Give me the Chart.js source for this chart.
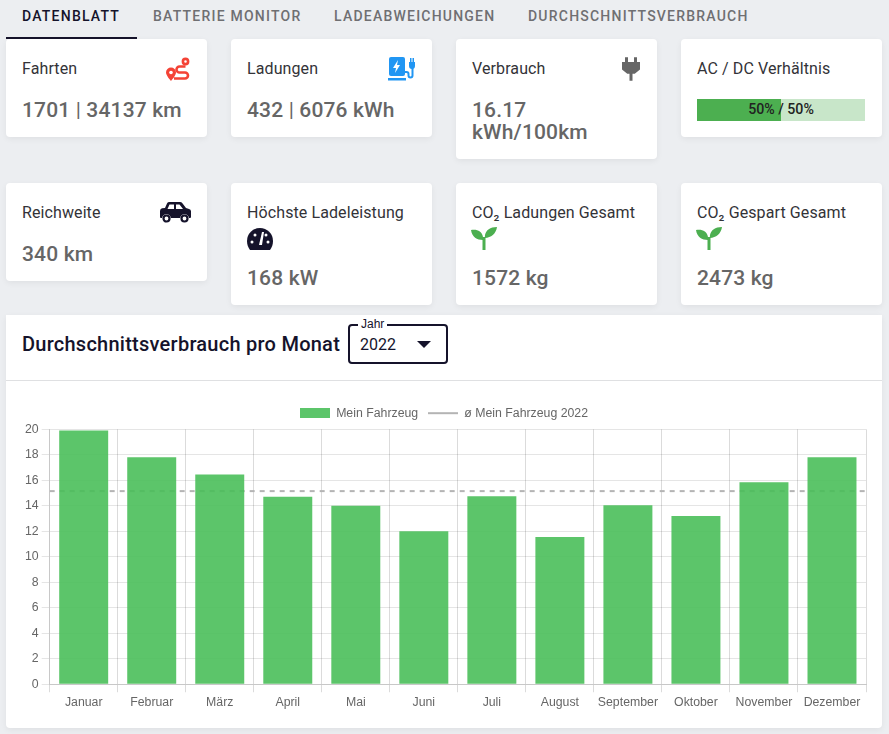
<!DOCTYPE html>
<html lang="de">
<head>
<meta charset="UTF-8">
<title>Datenblatt</title>
<script src="https://cdn.jsdelivr.net/npm/chart.js"></script>
<style>
html, body { margin: 0; padding: 0; }
body { width: 889px; height: 734px; background: #eceef1; font-family: Roboto, sans-serif; color: #15132b; position: relative; overflow: hidden; }
.tab { position: absolute; top: 8px; font-size: 14px; font-weight: 500; letter-spacing: 1.22px; color: #6f6f72; line-height: 16px; white-space: nowrap; }
.tab.active { color: #15132b; }
.underline { position: absolute; left: 6px; top: 37px; width: 131px; height: 2px; background: #15132b; }
.card { position: absolute; background: #fff; border-radius: 4px; box-shadow: 0 2px 6px rgba(0,0,0,.06); width: 201px; box-sizing: border-box; }
.card .t { position: absolute; left: 16px; top: 20px; font-size: 16px; letter-spacing: .1px; line-height: 19px; color: #333338; white-space: nowrap; }
.card .v { position: absolute; left: 16px; font-size: 21px; font-weight: 500; line-height: 22px; color: #666; letter-spacing: .15px; }
.card .v span { font-weight: 400; }
.card svg { position: absolute; }
.bar { position: absolute; left: 16px; top: 60px; width: 168px; height: 22px; background: #c8e6c9; }
.bar i { position: absolute; left: 0; top: 0; width: 84px; height: 22px; background: #4caf50; }
.bar b { position: absolute; left: 0; right: 0; top: 0; text-align: center; font-size: 14.2px; font-weight: 500; line-height: 21px; color: #222; }
#panel { position: absolute; left: 6px; top: 315px; width: 876px; height: 413px; background: #fff; border-radius: 0 0 4px 4px; box-shadow: 0 2px 6px rgba(0,0,0,.06); }
#panel h2 { position: absolute; left: 16px; top: 17px; margin: 0; font-size: 20px; font-weight: 500; letter-spacing: .25px; line-height: 24px; color: #15132b; white-space: nowrap; }
#panel hr { position: absolute; left: 0; right: 0; top: 65px; margin: 0; border: 0; border-top: 1px solid #dfe0e2; }
.select { position: absolute; left: 342px; top: 9px; width: 100px; height: 40px; box-sizing: border-box; border: 2px solid #15132b; border-radius: 4px; }
.select .lab { position: absolute; left: 8px; top: -8px; background: #fff; padding: 0 3px; font-size: 12px; line-height: 13px; color: #15132b; font-family: "Liberation Sans", Arial, sans-serif; }
.select .val { position: absolute; left: 10px; top: 9px; font-size: 16px; line-height: 19px; color: #15132b; }
.select .caret { position: absolute; left: 67px; top: 15px; width: 0; height: 0; border-left: 7px solid transparent; border-right: 7px solid transparent; border-top: 7px solid #15132b; }
#chartBox { position: absolute; left: 0; top: 66px; width: 876px; height: 347px; }
</style>
</head>
<body>
<div class="tab active" style="left:22px">DATENBLATT</div>
<div class="tab" style="left:153px">BATTERIE MONITOR</div>
<div class="tab" style="left:334px">LADEABWEICHUNGEN</div>
<div class="tab" style="left:528px">DURCHSCHNITTSVERBRAUCH</div>
<div class="underline"></div>

<div class="card" style="left:6px;top:39px;height:98px">
  <div class="t">Fahrten</div>
  <svg style="left:160px;top:18px" width="25" height="24" viewBox="0 0 25 24"><g fill="none" stroke="#f44336" stroke-width="2.6"><circle cx="19.5" cy="4.5" r="2.6"/><path d="M19.5 9.5H13.5a3 3 0 0 0 0 6H19a3 3 0 0 1 0 6H8"/></g><path d="M5 10.5a5 5 0 0 1 5 5c0 3-5 8.5-5 8.5s-5-5.500-5-8.500a5 5 0 0 1 5-5z" fill="#f44336"/><circle cx="5" cy="15.500" r="1.800" fill="#fff"/></svg>
  <div class="v" style="top:60px">1701 <span>|</span> 34137 km</div>
</div>
<div class="card" style="left:231px;top:39px;height:98px">
  <div class="t">Ladungen</div>
  <svg style="left:157px;top:18px" width="28" height="24" viewBox="0 0 28 24"><rect x="1" y="0" width="16" height="19" rx="2" fill="#2196f3"/><rect x="0" y="21" width="18" height="2.500" fill="#2196f3"/><path d="M10 3l-5 8h3l-1 5 5-8H9z" fill="#fff"/><path d="M17 15h1.500a2 2 0 0 1 2 2v1.500a2 2 0 0 0 4 0V11" fill="none" stroke="#2196f3" stroke-width="2"/><path d="M21 5h1V1h1.500v4h1V1H26v4h1v4a2.500 2.500 0 0 1-6 0z" fill="#2196f3"/></svg>
  <div class="v" style="top:60px">432 <span>|</span> 6076 kWh</div>
</div>
<div class="card" style="left:456px;top:39px;height:120px">
  <div class="t">Verbrauch</div>
  <svg style="left:163px;top:17px" width="24" height="26" viewBox="4 2 16 22" preserveAspectRatio="none"><path d="M16 7V3h-2v4h-4V3H8v4H6v6.500L9.500 17H11v6h2v-6h1.500l3.500-3.500V7z" fill="#666"/></svg>
  <div class="v" style="top:60px">16.17<br>kWh/100km</div>
</div>
<div class="card" style="left:681px;top:39px;height:98px">
  <div class="t">AC / DC Verhältnis</div>
  <div class="bar"><i></i><b>50% / 50%</b></div>
</div>

<div class="card" style="left:6px;top:183px;height:98px">
  <div class="t">Reichweite</div>
  <svg style="left:154px;top:18px" width="31" height="23" viewBox="0 0 31 23"><path d="M9 1h11a3 3 0 0 1 2.400 1.200L26 7l3 1a2.500 2.500 0 0 1 2 2.500V16a1 1 0 0 1-1 1h-1a4.500 4.500 0 0 0-8.900 0H10.900A4.500 4.500 0 0 0 2 17H1a1 1 0 0 1-1-1v-6a3 3 0 0 1 2-2.800L5 7l2-4.500A2 2 0 0 1 9 1z" fill="#15132b"/><path d="M9.500 3.500h4.500V8H7.500zM16 3.500h3.500L23 8h-7z" fill="#fff"/><circle cx="6.500" cy="17.500" r="3" fill="none" stroke="#15132b" stroke-width="2.200"/><circle cx="24.500" cy="17.500" r="3" fill="none" stroke="#15132b" stroke-width="2.200"/></svg>
  <div class="v" style="top:60px">340 km</div>
</div>
<div class="card" style="left:231px;top:183px;height:122px">
  <div class="t">Höchste Ladeleistung</div>
  <svg style="left:16px;top:45px" width="26" height="22" viewBox="0 0 26 22"><path d="M13 0a13 13 0 0 1 13 13c0 3.500-1.200 6.500-3 9H3c-1.800-2.500-3-5.500-3-9A13 13 0 0 1 13 0z" fill="#15132b"/><g fill="#fff"><circle cx="5" cy="14" r="1.500"/><circle cx="8" cy="7" r="1.500"/><circle cx="21" cy="14" r="1.500"/><circle cx="19" cy="7" r="1.500"/><path d="M15 4h2l-2 13h-3z"/></g></svg>
  <div class="v" style="top:84px">168 kW</div>
</div>
<div class="card" style="left:456px;top:183px;height:122px">
  <div class="t">CO₂ Ladungen Gesamt</div>
  <svg style="left:15px;top:44px" width="26" height="23" viewBox="0 0 26 23"><path d="M0 3c6-1 11 1 12 7v3C6 13 1 10 0 3zM26 0c-7 0-11 3-12 8-.2 1-.1 2 0 3 6-.5 11-4 12-11z" fill="#4caf50"/><rect x="11.500" y="10" width="3" height="13" fill="#4caf50"/></svg>
  <div class="v" style="top:84px">1572 kg</div>
</div>
<div class="card" style="left:681px;top:183px;height:122px">
  <div class="t">CO₂ Gespart Gesamt</div>
  <svg style="left:15px;top:44px" width="26" height="23" viewBox="0 0 26 23"><path d="M0 3c6-1 11 1 12 7v3C6 13 1 10 0 3zM26 0c-7 0-11 3-12 8-.2 1-.1 2 0 3 6-.5 11-4 12-11z" fill="#4caf50"/><rect x="11.500" y="10" width="3" height="13" fill="#4caf50"/></svg>
  <div class="v" style="top:84px">2473 kg</div>
</div>

<div id="panel">
  <h2>Durchschnittsverbrauch pro Monat</h2>
  <div class="select"><span class="lab">Jahr</span><span class="val">2022</span><span class="caret"></span></div>
  <hr>
  <div id="chartBox"><canvas id="myChart"></canvas></div>
</div>

<script>
// werte
const months = ["Januar", "Februar", "März", "April", "Mai", "Juni", "Juli", "August", "September", "Oktober", "November", "Dezember"];
const consumption = [19.9, 17.8, 16.45, 14.7, 14.0, 12.0, 14.75, 11.55, 14.05, 13.2, 15.85, 17.8];
const averageValue = 15.15;
const barLabel = "Mein Fahrzeug";
const lineLabel = "ø Mein Fahrzeug 2022";

const barColor = "rgba(72,190,88,0.89)";
const lineColor = "#b4b4b4";
const textColor = "#666";
const chartFont = "'Liberation Sans', Arial, sans-serif";
const chartFontSize = 12.3;

// legend swatches, 30x10 like the old chart.js boxes
function swatch(draw) {
    const c = document.createElement("canvas");
    c.width = 30;
    c.height = 10;
    draw(c.getContext("2d"));
    return c;
}
const barSwatch = swatch(g => { g.fillStyle = barColor; g.fillRect(0, 0, 30, 10); });
const lineSwatch = swatch(g => { g.fillStyle = lineColor; g.fillRect(0, 4, 30, 2); });

new Chart(document.getElementById("myChart"), {
    type: "bar",
    data: {
        labels: months,
        datasets: [
            { type: "bar", label: barLabel, data: consumption, backgroundColor: barColor, barPercentage: 0.72, categoryPercentage: 1, grouped: false, order: 1 },
            {
                type: "line",
                label: lineLabel,
                data: [{ x: 0, y: averageValue }, { x: 1, y: averageValue }],
                xAxisID: "avgX",
                borderColor: lineColor,
                borderWidth: 2,
                borderDash: [5, 5],
                pointRadius: 0,
                order: 2
            }
        ]
    },
    options: {
        responsive: true,
        maintainAspectRatio: false,
        animation: false,
        layout: { padding: { left: 16, right: 16, top: 16, bottom: 15 } },
        plugins: {
            tooltip: { enabled: false },
            legend: {
                position: "top",
                labels: {
                    font: { family: chartFont, size: chartFontSize },
                    color: textColor,
                    usePointStyle: true,
                    pointStyleWidth: 30,
                    boxHeight: 10,
                    padding: 10,
                    generateLabels(chart) {
                        const items = Chart.defaults.plugins.legend.labels.generateLabels(chart);
                        items[0].pointStyle = barSwatch;
                        items[1].pointStyle = lineSwatch;
                        return items;
                    }
                }
            }
        },
        scales: {
            x: {
                offset: true,
                grid: { color: "rgba(0,0,0,0.14)", offset: true, tickLength: 8 },
                border: { color: "#c8c8c8" },
                ticks: { font: { family: chartFont, size: chartFontSize }, color: textColor, maxRotation: 0, autoSkip: false, padding: 3 }
            },
            avgX: { type: "linear", min: 0, max: 1, display: false, offset: false, grid: { offset: false } },
            y: {
                min: 0,
                max: 20,
                grid: { color: "rgba(0,0,0,0.1)", tickLength: 8 },
                border: { color: "#c8c8c8" },
                ticks: { stepSize: 2, font: { family: chartFont, size: chartFontSize }, color: textColor, padding: 3 }
            }
        }
    }
});
</script>
</body>
</html>
